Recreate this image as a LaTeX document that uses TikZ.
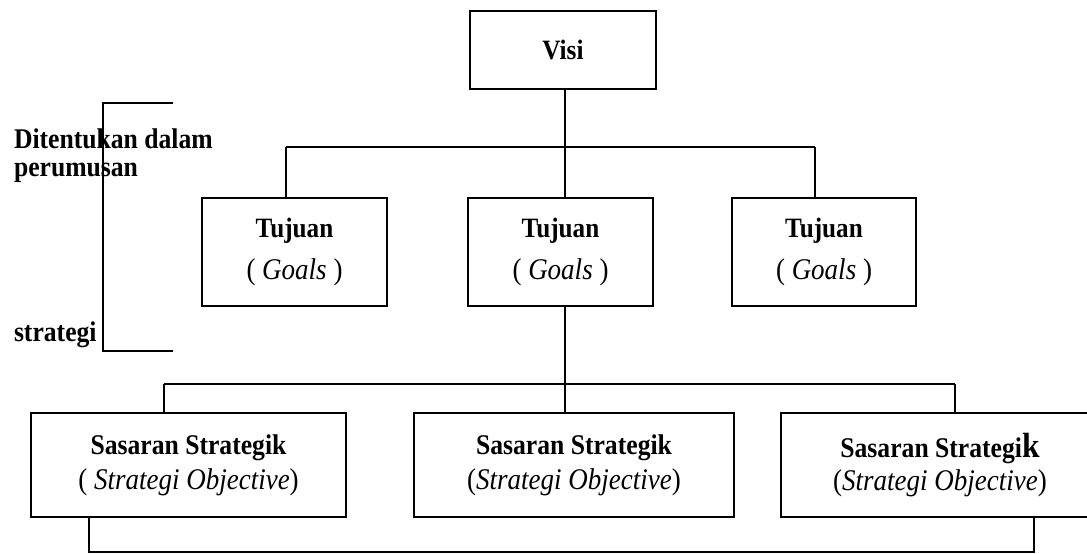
\documentclass[tikz,border=0pt]{standalone}
\usepackage{fontspec}
\setmainfont{Liberation Serif}[FakeStretch=0.9]
\begin{document}
\begin{tikzpicture}[x=1pt,y=-1pt,line width=2pt,
  box/.style={draw,rectangle,inner sep=0pt,align=center,
    font=\fontsize{28}{32}\selectfont\bfseries},
  sbox/.style={box,minimum height=104pt,
    font=\fontsize{28.5}{32}\selectfont\bfseries},
  gbox/.style={box,minimum height=108pt},
  lbl/.style={anchor=base west,inner sep=0pt,
    font=\fontsize{28.5}{32}\selectfont\bfseries}]
\clip (0,0) rectangle (1087,554);
\newcommand{\itl}[2]{{\fontsize{#1}{32}\selectfont\mdseries #2}}
% boxes
\node[box,minimum width=186pt,minimum height=78pt] (visi) at (563,50) {Visi};
\node[gbox,minimum width=185pt] (g1) at (294.5,252)
  {Tujuan\\[10pt]\itl{30}{( \textit{Goals} )}};
\node[gbox,minimum width=185pt] (g2) at (560.5,252)
  {Tujuan\\[10pt]\itl{30}{( \textit{Goals} )}};
\node[gbox,minimum width=184pt] (g3) at (824,252)
  {Tujuan\\[10pt]\itl{30}{( \textit{Goals} )}};
\node[sbox,minimum width=315pt] (s1) at (188.5,465)
  {Sasaran Strategik\\[3pt]\itl{30}{( \textit{Strategi Objective})}};
\node[sbox,minimum width=320pt] (s2) at (574,465)
  {Sasaran Strategik\\[3pt]\itl{30}{(\textit{Strategi Objective})}};
\node[sbox,minimum width=318pt] (s3) at (940,465)
  {Sasaran Strategi{\fontsize{35}{32}\selectfont k}\\[1pt]\itl{30}{(\textit{Strategi Objective})}};
% level 1 connectors
\coordinate (t1) at (286,147);
\coordinate (t2) at (565,147);
\coordinate (t3) at (815,147);
\draw (t2 |- visi.south) -- (t2);
\draw (t1) -- (t3);
\draw (t1) -- (t1 |- g1.north);
\draw (t2) -- (t2 |- g2.north);
\draw (t3) -- (t3 |- g3.north);
% level 2 connectors
\coordinate (m1) at (164,384);
\coordinate (m2) at (565,384);
\coordinate (m3) at (955,384);
\draw (m2 |- g2.south) -- (m2);
\draw (m1) -- (m3);
\draw (m1) -- (m1 |- s1.north);
\draw (m2) -- (m2 |- s2.north);
\draw (m3) -- (m3 |- s3.north);
% level 3 connectors
\coordinate (n1) at (89,552);
\coordinate (n2) at (1034,552);
\draw (n1 |- s1.south) -- (n1) -- (n2) -- (n2 |- s3.south);
% bracket
\coordinate (k1) at (173,103);
\coordinate (k2) at (103,103);
\coordinate (k3) at (103,351);
\coordinate (k4) at (173,351);
\draw (k1) -- (k2) -- (k3) -- (k4);
% side labels
\node[lbl] (d1) at (13,148) {Ditentukan dalam};
\node[lbl] (d2) at (13,176) {perumusan};
\node[lbl] (d3) at (13,341) {strategi};
\end{tikzpicture}
\end{document}
